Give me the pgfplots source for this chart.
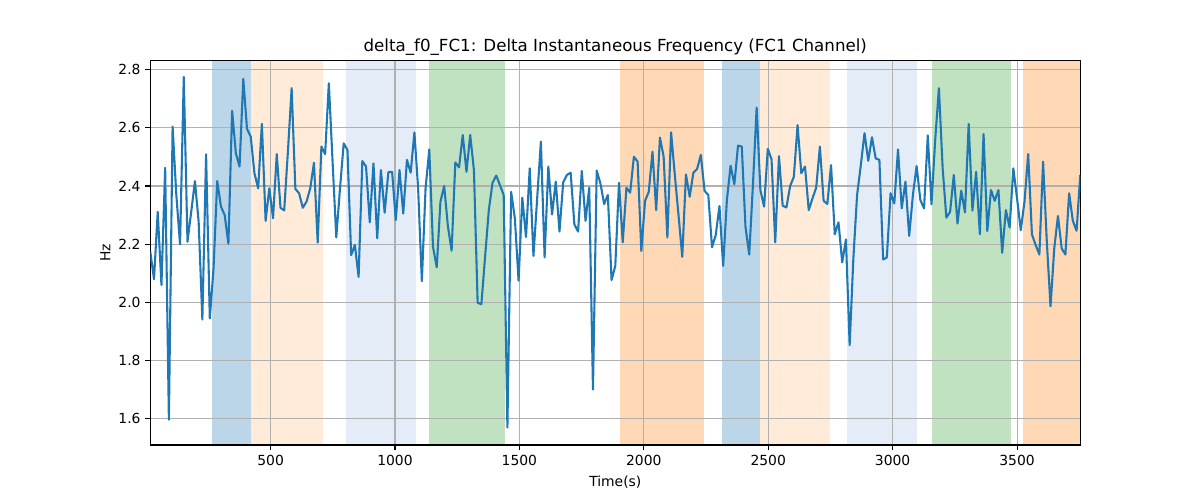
\documentclass[border=0pt]{standalone}
\usepackage{fontspec}
\setmainfont{DejaVu Sans}
\usepackage{pgfplots}
\pgfplotsset{compat=1.18}
\usepackage{pgfplotstable}
\definecolor{tabblue}{HTML}{1F77B4}
\definecolor{bandblue}{HTML}{BBD6E8}
\definecolor{bandlblue}{HTML}{E4ECF7}
\definecolor{bandlorange}{HTML}{FFEBD8}
\definecolor{bandorange}{HTML}{FFD8B5}
\definecolor{bandgreen}{HTML}{C0E2C0}
\definecolor{gridgray}{HTML}{B0B0B0}
\pgfplotstableread{
x y
16.5 2.174
31.5 2.079
46.4 2.311
61.4 2.059
76.3 2.463
91.3 1.595
106.2 2.605
121.2 2.369
136.1 2.199
151.1 2.776
166.0 2.208
181.0 2.311
195.9 2.417
210.9 2.277
225.8 1.940
240.8 2.509
255.7 1.944
270.7 2.116
285.6 2.417
300.6 2.329
315.5 2.300
330.5 2.201
345.4 2.659
360.4 2.513
375.3 2.467
390.3 2.769
405.2 2.597
420.2 2.570
435.1 2.444
450.1 2.392
465.0 2.614
480.0 2.280
494.9 2.392
509.9 2.289
524.8 2.510
539.8 2.325
554.7 2.316
569.7 2.520
584.6 2.737
599.6 2.390
614.5 2.375
629.5 2.325
644.4 2.346
659.4 2.392
674.3 2.480
689.3 2.205
704.2 2.536
719.2 2.510
734.1 2.754
749.1 2.484
764.0 2.223
779.0 2.392
793.9 2.547
808.9 2.524
823.8 2.162
838.8 2.197
853.7 2.087
868.7 2.486
883.6 2.467
898.6 2.275
913.5 2.478
928.5 2.220
943.4 2.455
958.4 2.308
973.3 2.448
988.3 2.449
1003.2 2.283
1018.2 2.455
1033.1 2.305
1048.1 2.490
1063.0 2.446
1078.0 2.585
1092.9 2.392
1107.9 2.072
1122.8 2.392
1137.8 2.526
1152.7 2.191
1167.7 2.120
1182.6 2.346
1197.6 2.400
1212.5 2.262
1227.5 2.177
1242.4 2.481
1257.4 2.464
1272.3 2.576
1287.3 2.449
1302.2 2.576
1317.2 2.455
1332.1 1.998
1347.1 1.993
1362.0 2.156
1377.0 2.317
1391.9 2.411
1406.9 2.436
1421.8 2.403
1436.8 2.369
1451.7 1.568
1466.7 2.380
1481.6 2.289
1496.6 2.074
1511.5 2.360
1526.5 2.224
1541.4 2.461
1556.4 2.159
1571.3 2.357
1586.3 2.553
1601.2 2.154
1616.2 2.467
1631.1 2.302
1646.1 2.415
1661.0 2.243
1676.0 2.413
1690.9 2.438
1705.9 2.446
1720.8 2.268
1735.8 2.243
1750.7 2.452
1765.7 2.280
1780.6 2.394
1795.6 1.699
1810.5 2.453
1825.5 2.409
1840.4 2.338
1855.4 2.369
1870.3 2.076
1885.3 2.125
1900.2 2.411
1915.2 2.206
1930.1 2.394
1945.1 2.377
1960.0 2.501
1975.0 2.484
1989.9 2.176
2004.9 2.349
2019.8 2.380
2034.8 2.518
2049.7 2.317
2064.7 2.567
2079.6 2.501
2094.6 2.223
2109.5 2.585
2124.5 2.438
2139.4 2.300
2154.4 2.156
2169.3 2.440
2184.3 2.363
2199.2 2.446
2214.2 2.459
2229.1 2.507
2244.1 2.383
2259.0 2.369
2274.0 2.189
2288.9 2.231
2303.9 2.331
2318.8 2.125
2333.8 2.352
2348.7 2.470
2363.7 2.406
2378.6 2.539
2393.6 2.536
2408.5 2.260
2423.5 2.164
2438.4 2.403
2453.4 2.670
2468.3 2.386
2483.3 2.329
2498.2 2.528
2513.2 2.492
2528.1 2.206
2543.1 2.503
2558.0 2.332
2573.0 2.326
2587.9 2.400
2602.9 2.432
2617.8 2.610
2632.8 2.444
2647.7 2.467
2662.7 2.317
2677.6 2.357
2692.6 2.394
2707.5 2.536
2722.5 2.349
2737.4 2.338
2752.4 2.472
2767.3 2.234
2782.3 2.275
2797.2 2.137
2812.2 2.216
2827.1 1.852
2842.1 2.151
2857.0 2.369
2872.0 2.472
2886.9 2.582
2901.9 2.487
2916.8 2.568
2931.8 2.495
2946.7 2.490
2961.7 2.147
2976.6 2.154
2991.6 2.375
3006.5 2.340
3021.5 2.526
3036.4 2.323
3051.4 2.415
3066.3 2.228
3081.3 2.369
3096.2 2.469
3111.2 2.352
3126.1 2.323
3141.1 2.574
3156.0 2.337
3171.0 2.560
3185.9 2.737
3200.9 2.461
3215.8 2.291
3230.8 2.311
3245.7 2.438
3260.7 2.271
3275.6 2.384
3290.6 2.309
3305.5 2.614
3320.5 2.315
3335.4 2.449
3350.4 2.234
3365.3 2.579
3380.3 2.245
3395.2 2.386
3410.2 2.349
3425.1 2.386
3440.1 2.170
3455.0 2.317
3470.0 2.257
3484.9 2.461
3499.9 2.357
3514.8 2.248
3529.8 2.346
3544.7 2.510
3559.7 2.233
3574.6 2.197
3589.6 2.164
3604.5 2.484
3619.5 2.208
3634.4 1.986
3649.4 2.185
3664.3 2.297
3679.3 2.185
3694.2 2.164
3709.2 2.375
3724.1 2.280
3739.1 2.246
3754.0 2.438
}\freqdata
\begin{document}
\begin{tikzpicture}
\begin{axis}[
  set layers,
  at={(0pt,0pt)}, anchor=south west,
  scale only axis, width=669.6pt, height=277.0pt,
  xmin=16.5, xmax=3754, ymin=1.508, ymax=2.833,
  xtick={500,1000,1500,2000,2500,3000,3500},
  ytick={1.6,1.8,2.0,2.2,2.4,2.6,2.8},
  yticklabel style={/pgf/number format/.cd, fixed, fixed zerofill, precision=1},
  /pgf/number format/assume math mode=true,
  scaled x ticks=false,
  xticklabel style={/pgf/number format/.cd, fixed, set thousands separator={}},
  ticklabel style={font=\fontsize{10}{12}\selectfont},
  grid=major,
  major grid style={color=gridgray, line width=0.8pt},
  axis line style={line width=0.8pt, black},
  tick style={line width=0.8pt, black},
  tick align=outside, tick pos=left,
  major tick length=3.5pt,
  title={delta\_f0\_FC1: Delta Instantaneous Frequency (FC1 Channel)},
  title style={font=\fontsize{12}{14}\selectfont, yshift=-6pt},
  xlabel={Time(s)}, ylabel={Hz},
  label style={font=\fontsize{10}{12}\selectfont},
  xlabel style={yshift=-0.5pt},
  ylabel style={yshift=-1pt},
  band/.style={draw=none, fill=#1, on layer=axis background, forget plot},
]
\addplot[band=bandblue] coordinates {(265.7,2.833) (420,2.833)} \closedcycle;
\addplot[band=bandlorange] coordinates {(420,2.833) (709.4,2.833)} \closedcycle;
\addplot[band=bandlblue] coordinates {(803,2.833) (1083,2.833)} \closedcycle;
\addplot[band=bandgreen] coordinates {(1137,2.833) (1441,2.833)} \closedcycle;
\addplot[band=bandorange] coordinates {(1905.5,2.833) (2240.6,2.833)} \closedcycle;
\addplot[band=bandblue] coordinates {(2315,2.833) (2468,2.833)} \closedcycle;
\addplot[band=bandlorange] coordinates {(2468,2.833) (2747,2.833)} \closedcycle;
\addplot[band=bandlblue] coordinates {(2816.6,2.833) (3098,2.833)} \closedcycle;
\addplot[band=bandgreen] coordinates {(3158,2.833) (3474.5,2.833)} \closedcycle;
\addplot[band=bandorange] coordinates {(3524,2.833) (3754,2.833)} \closedcycle;
\addplot[color=tabblue, line width=1.5pt, mark=none, line join=round] table[x=x,y=y] {\freqdata};
\end{axis}
\pgfresetboundingbox
\path[use as bounding box] (-108.2pt,-39.6pt) rectangle (755.8pt,320.4pt);
\end{tikzpicture}
\end{document}
